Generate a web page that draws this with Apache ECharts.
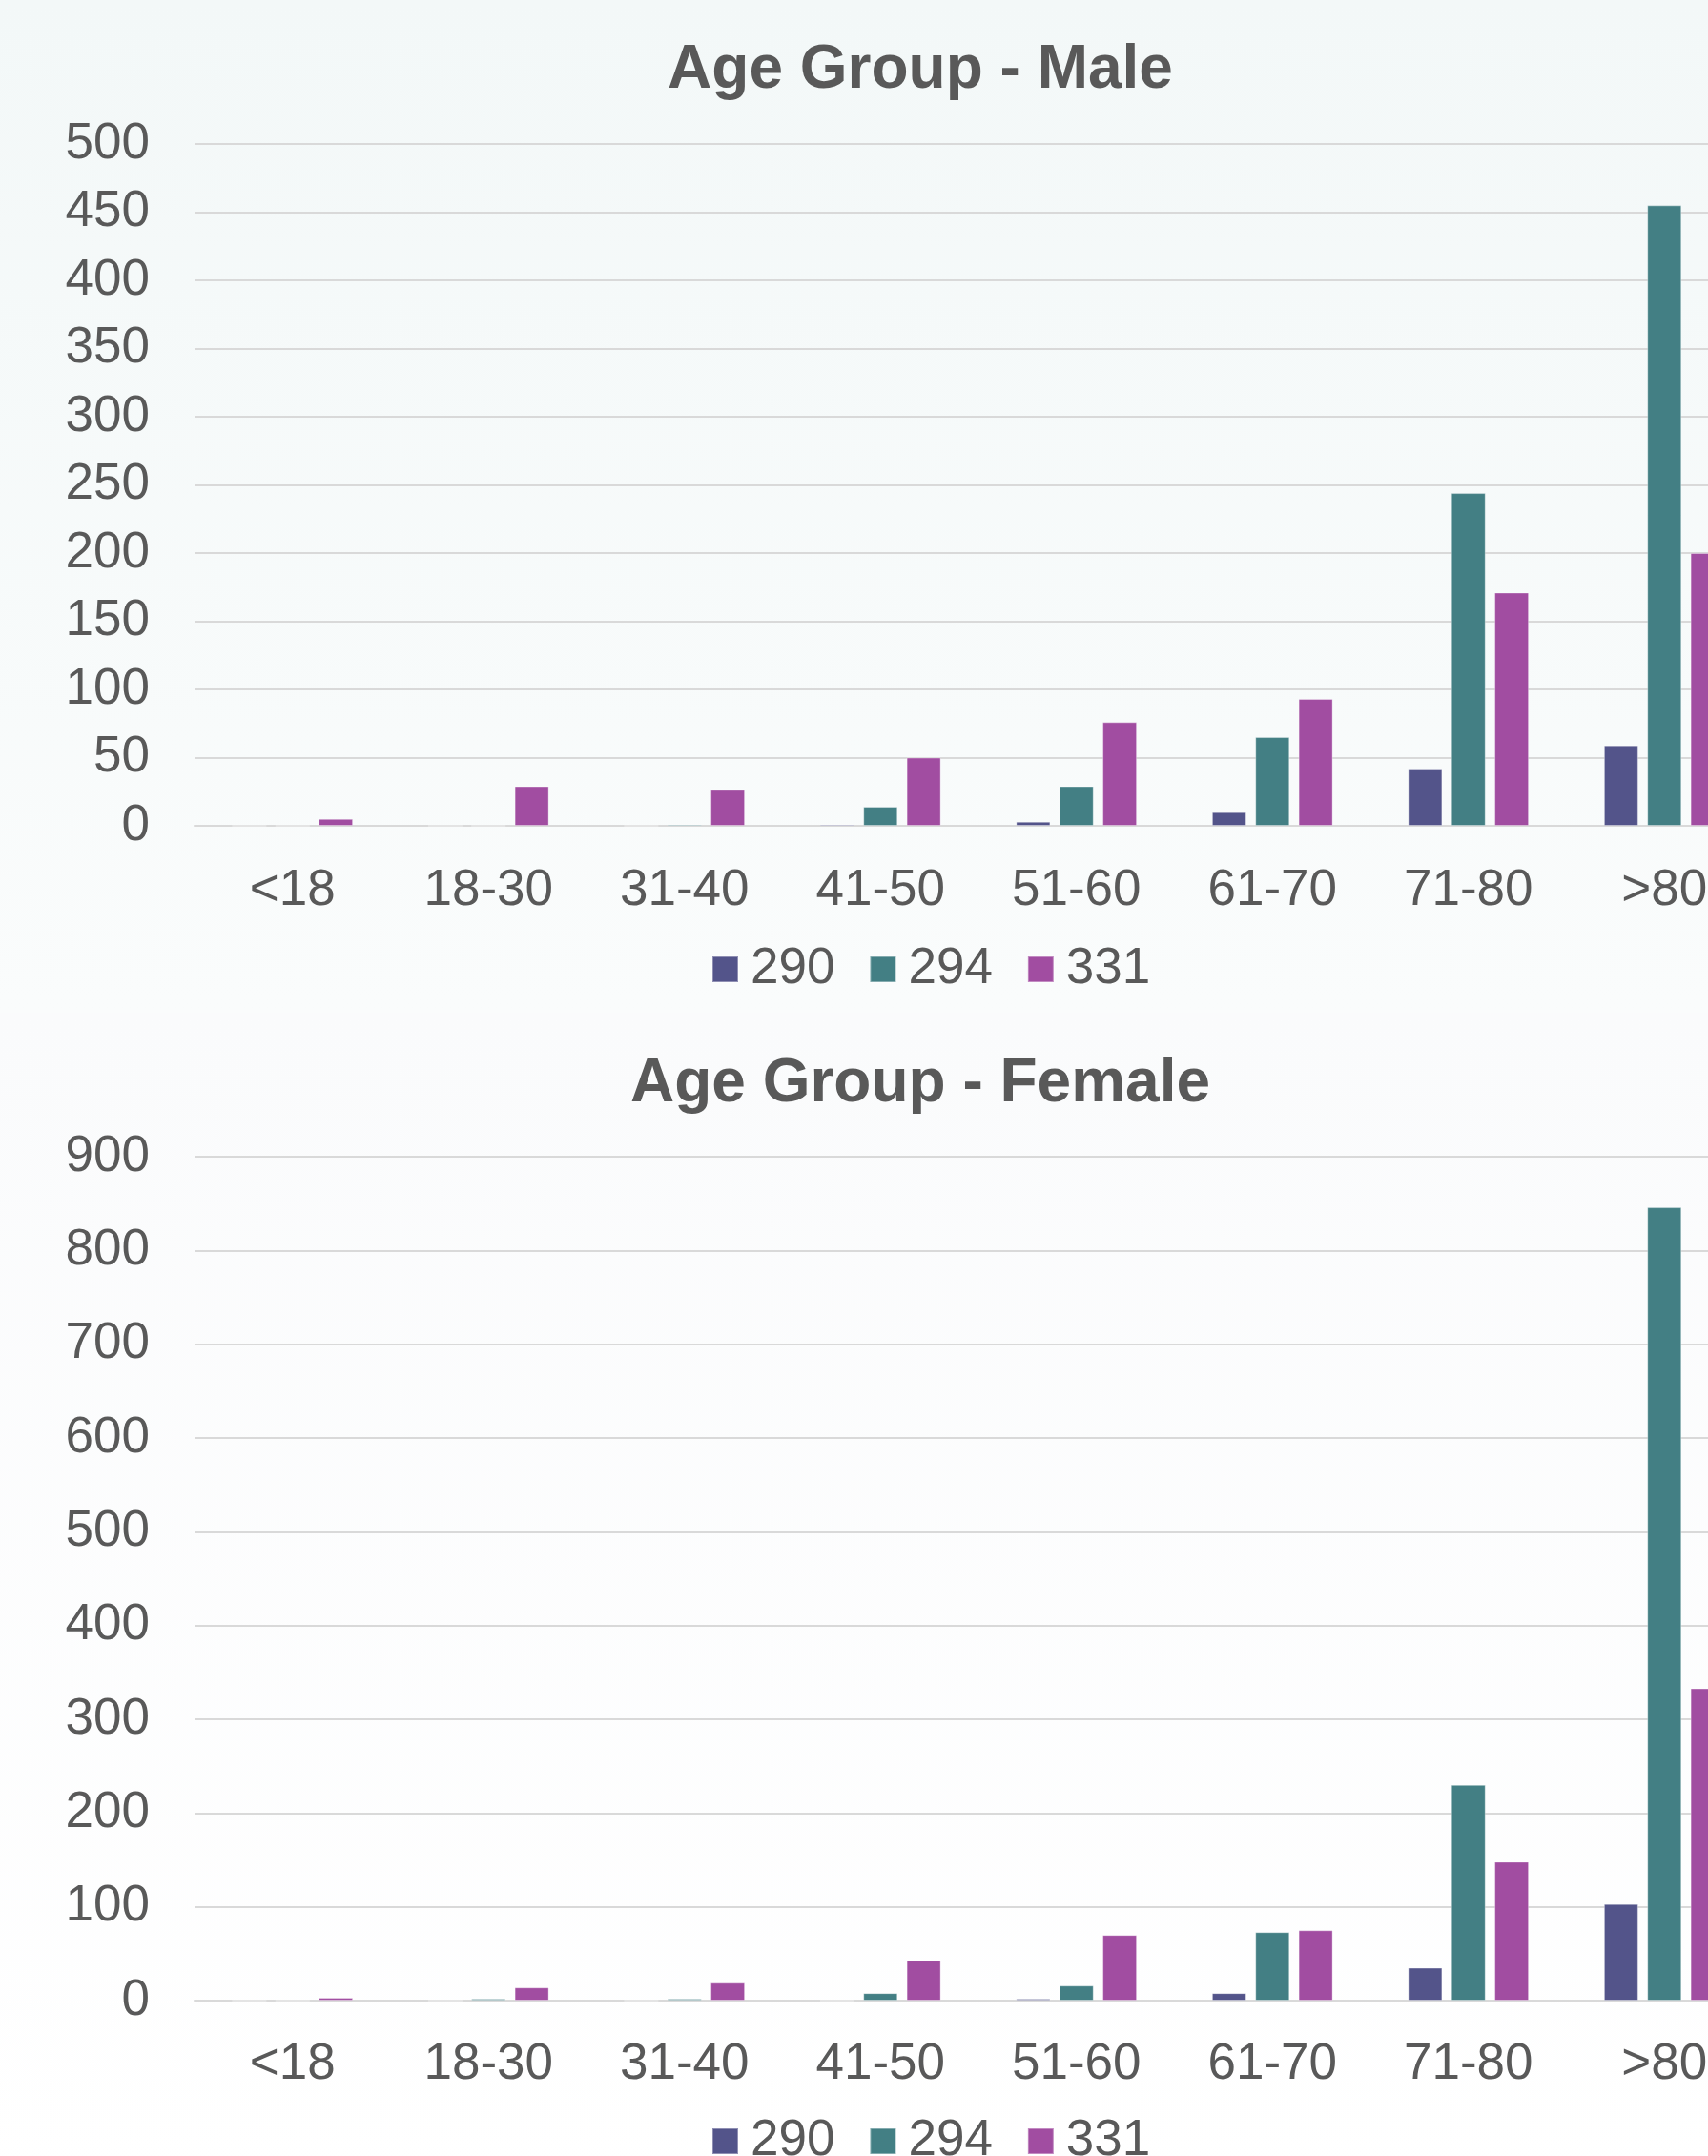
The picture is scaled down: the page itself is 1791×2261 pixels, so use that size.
<!DOCTYPE html>
<html>
<head>
<meta charset="utf-8">
<script src="https://cdn.jsdelivr.net/npm/echarts@6/dist/echarts.min.js"></script>
<style>
  html, body { margin: 0; padding: 0; width: 1791px; height: 2261px; overflow: hidden; background: #ffffff; }
  #male { position: absolute; left: 0; top: 0; width: 1930px; height: 1062px; }
  #female { position: absolute; left: 0; top: 1062px; width: 1930px; height: 1230px; }
</style>
</head>
<body>
<div id="male"></div>
<div id="female"></div>
<script>
// Age bands shown on the category axis
const ageGroups = ['<18', '18-30', '31-40', '41-50', '51-60', '61-70', '71-80', '>80'];

// Series names (legend entries)
const seriesNames = ['290', '294', '331'];

// Male counts per age band
const male290 = [0, 0, 0, 1, 3, 10, 42, 59];
const male294 = [0, 0, 1, 14, 29, 65, 244, 455];
const male331 = [5, 29, 27, 50, 76, 93, 171, 200];

// Female counts per age band
const female290 = [0, 0, 0, 0, 2, 8, 35, 103];
const female294 = [0, 2, 2, 8, 16, 73, 230, 846];
const female331 = [3, 14, 19, 43, 70, 75, 148, 333];

// Value axis ranges
const maleAxis = { min: 0, max: 500, interval: 50 };
const femaleAxis = { min: 0, max: 900, interval: 100 };

const palette = ['#53548a', '#437f84', '#a14da1'];
const textColor = '#595959';
const gridColor = '#d9d9d9';
const fontFamily = '"Liberation Sans", Arial, Helvetica, sans-serif';

function buildOption(title, values, axis, bg, layout) {
  return {
    backgroundColor: {
      type: 'linear', x: 0, y: 0, x2: 0, y2: 1,
      colorStops: [
        { offset: 0, color: bg[0] },
        { offset: 1, color: bg[1] }
      ]
    },
    animation: false,
    textStyle: { fontFamily: fontFamily },
    title: {
      text: title,
      left: 965,
      textAlign: 'center',
      top: layout.titleTop,
      padding: 0,
      textStyle: { color: textColor, fontSize: 64, fontWeight: 'bold', fontFamily: fontFamily }
    },
    legend: {
      data: seriesNames,
      left: 746,
      top: layout.legendTop,
      padding: 0,
      itemWidth: 27,
      itemHeight: 27,
      itemGap: 36,
      icon: 'rect',
      textStyle: { color: textColor, fontSize: 53, fontFamily: fontFamily, padding: [0, 0, 0, 8] }
    },
    grid: { left: 204, right: 82, top: 151, bottom: layout.gridBottom, containLabel: false },
    xAxis: {
      type: 'category',
      data: ageGroups,
      axisTick: { show: false },
      axisLine: { show: true, lineStyle: { color: gridColor, width: 2 } },
      axisLabel: { color: textColor, fontSize: 53, margin: layout.labelMargin, fontFamily: fontFamily, interval: 0 }
    },
    yAxis: {
      type: 'value',
      min: axis.min,
      max: axis.max,
      interval: axis.interval,
      axisLine: { show: false },
      axisTick: { show: false },
      axisLabel: { color: textColor, fontSize: 53, margin: 47, fontFamily: fontFamily },
      splitLine: { show: true, lineStyle: { color: gridColor, width: 2 } }
    },
    series: values.map((v, i) => ({
      name: seriesNames[i],
      type: 'bar',
      data: v,
      barWidth: 36,
      barGap: '26%',
      itemStyle: {
        color: palette[i],
        borderColor: 'rgba(255,255,255,0.35)',
        borderWidth: 1
      }
    }))
  };
}

const maleChart = echarts.init(document.getElementById('male'), null, { renderer: 'canvas' });
maleChart.setOption(buildOption(
  'Age Group - Male',
  [male290, male294, male331],
  maleAxis,
  ['#f3f8f8', '#fafcfc'],
  { titleTop: 42, legendTop: 990, gridBottom: 196, labelMargin: 42 }
));

const femaleChart = echarts.init(document.getElementById('female'), null, { renderer: 'canvas' });
femaleChart.setOption(buildOption(
  'Age Group - Female',
  [female290, female294, female331],
  femaleAxis,
  ['#fafbfc', '#ffffff'],
  { titleTop: 43, legendTop: 1157, gridBottom: 194, labelMargin: 41 }
));
</script>
</body>
</html>
